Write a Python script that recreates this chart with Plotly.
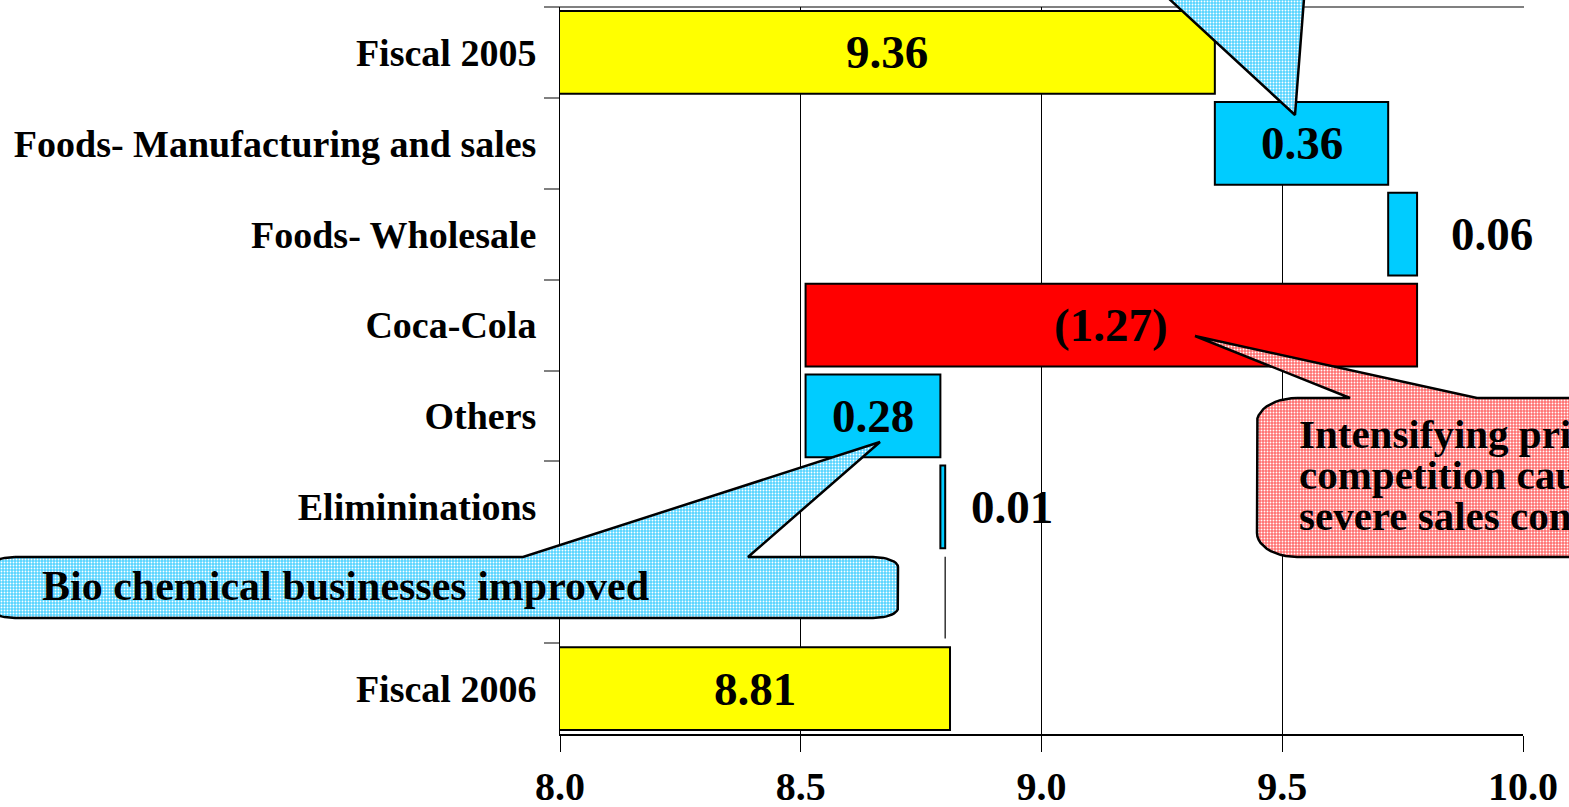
import numpy as np
import plotly.graph_objects as go

# ---------------- data ----------------
categories = ["Fiscal 2005", "Foods- Manufacturing and sales", "Foods- Wholesale",
              "Coca-Cola", "Others", "Elimininations", " ", "Fiscal 2006"]
values = [9.36, 0.36, 0.06, -1.27, 0.28, 0.01, 0.00, 8.81]
kinds = ["total", "delta", "delta", "delta", "delta", "delta", "gap", "total"]
value_labels = ["9.36", "0.36", "0.06", "(1.27)", "0.28", "0.01", "", "8.81"]
label_inside = [True, True, False, True, True, False, None, True]
x_tickvals = [8.0, 8.5, 9.0, 9.5, 10.0]
x_ticktext = ["8.0", "8.5", "9.0", "9.5", "10.0"]
callout_bio = "Bio chemical businesses improved"
callout_cola = ["Intensifying price", "competition caused", "severe sales conditions"]

W, H = 1569, 807
FONT = "Liberation Serif"
YELLOW, CYAN, RED = "#FFFF00", "#00CCFF", "#FF0000"

# ---------------- waterfall geometry from data ----------------
bases, widths, colors, ys = [], [], [], []
running = 0.0
gap_positions = []
for i, (c, v, k) in enumerate(zip(categories, values, kinds)):
    if k == "total":
        bases.append(0.0); widths.append(v); colors.append(YELLOW)
        running = v
    elif k == "delta":
        bases.append(running); widths.append(v)
        colors.append(CYAN if v >= 0 else RED)
        running = running + v
    else:
        bases.append(None); widths.append(None); colors.append("white")
        gap_positions.append((i, running))
    ys.append(c)

fig = go.Figure()
fig.add_trace(go.Bar(
    y=ys, x=widths, base=bases, orientation="h",
    marker=dict(color=colors, line=dict(color="black", width=2)),
    hoverinfo="skip", showlegend=False,
))

# value labels
annotations = []
for i, (c, v, k, t, ins) in enumerate(zip(categories, values, kinds, value_labels, label_inside)):
    if not t:
        continue
    b = bases[i]; w = widths[i]
    lo, hi = min(b, b + w), max(b, b + w)
    if k == "total":
        lo = max(lo, 8.0)
    if ins:
        annotations.append(dict(x=(lo + hi) / 2, y=c, xref="x", yref="y", text=t,
                                showarrow=False, xanchor="center", yanchor="middle",
                                font=dict(family=FONT, size=47, color="black", weight="bold")))
    else:
        annotations.append(dict(x=hi, y=c, xref="x", yref="y", text=t,
                                showarrow=False, xanchor="left", yanchor="middle",
                                xshift=32 if v > 0.03 else 24,
                                font=dict(family=FONT, size=47, color="black", weight="bold")))

# connector line on the blank row
shapes = []
for idx, xpos in gap_positions:
    shapes.append(dict(type="line", xref="x", yref="y", x0=xpos, x1=xpos,
                       y0=idx - 0.45, y1=idx + 0.45,
                       line=dict(color="#333333", width=1.5)))

# top border of plot area (grey)
px0, px1, py0, py1 = 560, 1523, 7, 734
shapes.append(dict(type="line", xref="paper", yref="paper", layer="below",
                   x0=545 / W, x1=(px1 + 1) / W, y0=1 - py0 / H, y1=1 - py0 / H,
                   line=dict(color="#808080", width=2)))


# ---------------- callouts (overlay pixel axes) ----------------
def rounded_box(x0, y0, x1, y1, rx, ry, tail=None, n=12):
    pts = [(x0 + rx, y0)]
    if tail is not None:
        bx0, tip, bx1 = tail
        pts += [(bx0, y0), tip, (bx1, y0)]
    pts.append((x1 - rx, y0))
    def arc(cx, cy, t0, t1):
        return [(cx + rx * np.cos(t), cy + ry * np.sin(t)) for t in np.linspace(t0, t1, n)]
    pts += arc(x1 - rx, y0 + ry, -np.pi / 2, 0)
    pts += arc(x1 - rx, y1 - ry, 0, np.pi / 2)
    pts += arc(x0 + rx, y1 - ry, np.pi / 2, np.pi)
    pts += arc(x0 + rx, y0 + ry, np.pi, 1.5 * np.pi)
    pts.append(pts[0])
    xs, yy = zip(*pts)
    return list(xs), list(yy)


def add_callout(xs, yy, bg, fg):
    fig.add_trace(go.Scatter(
        x=xs, y=yy, xaxis="x2", yaxis="y2", mode="lines", fill="toself",
        fillcolor=bg,
        fillpattern=dict(shape=".", fgcolor=fg, bgcolor=bg, size=3, solidity=0.3,
                         fillmode="replace"),
        line=dict(color="black", width=2.5), hoverinfo="skip", showlegend=False))


# top callout tail (pointing to Foods- Manufacturing bar)
add_callout([1127, 1295, 1307, 1127], [-40, 115, -40, -40], "#55D4FF", "white")
# bio chemical callout
bx, by = rounded_box(-10, 557, 898, 618, 25, 10, tail=(523, (880, 442), 748))
add_callout(bx, by, "#55D4FF", "white")
# coca-cola callout
rx_, ry_ = rounded_box(1257, 398, 1720, 557, 40, 24, tail=(1350, (1195, 336), 1477))
add_callout(rx_, ry_, "#FF7070", "white")

annotations.append(dict(x=40, y=586, xref="x2", yref="y2", text=callout_bio,
                        showarrow=False, xanchor="left", yanchor="middle",
                        font=dict(family=FONT, size=42, color="black", weight="bold")))
for j, line in enumerate(callout_cola):
    annotations.append(dict(x=1297, y=434 + 41 * j, xref="x2", yref="y2", text=line,
                            showarrow=False, xanchor="left", yanchor="middle",
                            font=dict(family=FONT, size=41, color="black", weight="bold")))

fig.update_layout(
    width=W, height=H,
    margin=dict(l=0, r=0, t=0, b=0, autoexpand=False),
    paper_bgcolor="white", plot_bgcolor="rgba(0,0,0,0)",
    bargap=0.09, showlegend=False,
    xaxis=dict(domain=[px0 / W, px1 / W], range=[8.0, 10.0], tickvals=x_tickvals,
               ticktext=x_ticktext, showgrid=True, gridcolor="black", gridwidth=1,
               zeroline=False, showline=True, linecolor="black", linewidth=2,
               ticks="outside", ticklen=16, tickcolor="black", tickwidth=1,
               ticklabelstandoff=0,
               tickfont=dict(family=FONT, size=40, color="black", weight="bold"),
               anchor="y", fixedrange=True),
    yaxis=dict(domain=[1 - py1 / H, 1 - py0 / H], type="category",
               categoryorder="array", categoryarray=categories,
               range=[len(categories) - 0.5, -0.5],
               showgrid=False, zeroline=False, showline=True, linecolor="black",
               linewidth=1, ticks="outside", tickson="boundaries", ticklen=15,
               tickcolor="#808080", tickwidth=2, ticklabelstandoff=15,
               tickfont=dict(family=FONT, size=38, color="black", weight="bold"),
               anchor="x", fixedrange=True),
    xaxis2=dict(domain=[0, 1], range=[0, W], visible=False, anchor="y2", fixedrange=True),
    yaxis2=dict(domain=[0, 1], range=[H, 0], visible=False, anchor="x2", fixedrange=True),
    shapes=shapes, annotations=annotations,
)

fig.write_html("out.html", config={"displayModeBar": False},
               post_script="document.body.style.margin='0';document.body.style.overflow='hidden';")
